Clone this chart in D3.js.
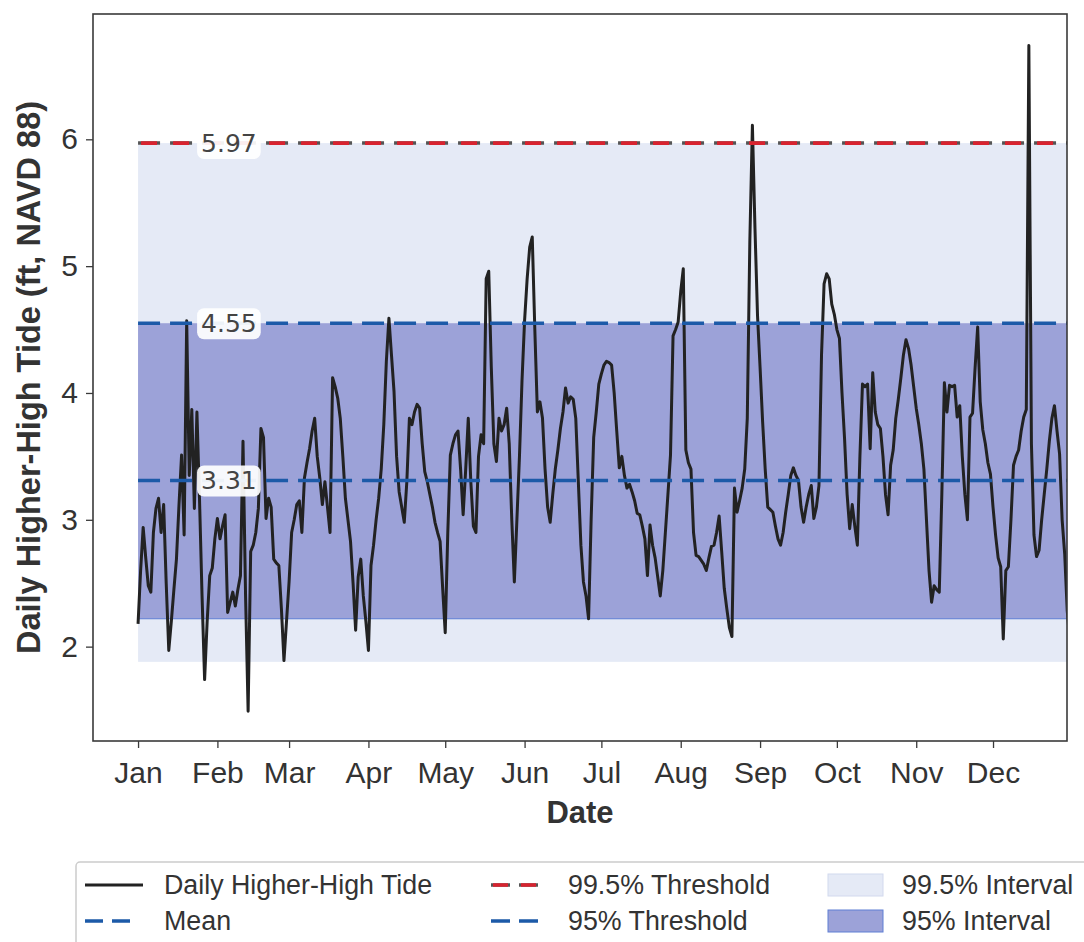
<!DOCTYPE html>
<html>
<head>
<meta charset="utf-8">
<script src="https://cdn.jsdelivr.net/npm/d3@7"></script>
<style>
  body { margin: 0; background: #fff; }
  svg text { font-family: "Liberation Sans", Arial, Helvetica, sans-serif; }
</style>
</head>
<body>
<svg id="chart" width="1084" height="942"></svg>
<script>
// Daily higher-high tide (ft, NAVD 88), one value per day starting Jan 1
const tideFt = [
  2.18, 2.60, 2.94, 2.70, 2.48, 2.43, 2.90, 3.09, 3.17, 2.90,
  3.12, 2.50, 1.97, 2.20, 2.45, 2.69, 3.12, 3.51, 2.88, 4.57,
  3.35, 3.87, 3.09, 3.85, 3.17, 2.40, 1.74, 2.20, 2.56, 2.62,
  2.85, 3.01, 2.85, 2.95, 3.04, 2.27, 2.35, 2.43, 2.32, 2.45,
  2.56, 3.62, 2.40, 1.49, 2.75, 2.80, 2.90, 3.09, 3.72, 3.65,
  3.01, 3.17, 3.10, 2.69, 2.66, 2.64, 2.30, 1.89, 2.20, 2.51,
  2.90, 3.00, 3.12, 3.15, 2.90, 3.33, 3.45, 3.56, 3.70, 3.80,
  3.50, 3.33, 3.12, 3.30, 3.10, 2.90, 4.12, 4.05, 3.96, 3.80,
  3.50, 3.17, 3.00, 2.83, 2.50, 2.13, 2.55, 2.69, 2.40, 2.20,
  1.97, 2.64, 2.80, 3.00, 3.17, 3.40, 3.75, 4.25, 4.59, 4.30,
  4.01, 3.50, 3.22, 3.10, 2.98, 3.30, 3.80, 3.75, 3.85, 3.91,
  3.88, 3.60, 3.38, 3.30, 3.20, 3.10, 2.98, 2.90, 2.83, 2.46,
  2.11, 2.90, 3.51, 3.60, 3.67, 3.70, 3.40, 3.04, 3.40, 3.80,
  3.30, 2.95, 2.90, 3.50, 3.67, 3.60, 4.90, 4.96, 4.20, 3.60,
  3.46, 3.80, 3.70, 3.75, 3.88, 3.60, 3.00, 2.51, 3.00, 3.50,
  4.10, 4.57, 4.90, 5.15, 5.23, 4.50, 3.85, 3.93, 3.80, 3.40,
  3.10, 2.98, 3.20, 3.40, 3.55, 3.72, 3.85, 4.04, 3.92, 3.97,
  3.95, 3.80, 3.30, 2.80, 2.51, 2.40, 2.22, 3.00, 3.65, 3.85,
  4.07, 4.15, 4.22, 4.25, 4.24, 4.22, 4.00, 3.70, 3.41, 3.50,
  3.35, 3.25, 3.28, 3.22, 3.15, 3.05, 3.04, 2.95, 2.85, 2.56,
  2.96, 2.80, 2.70, 2.55, 2.40, 2.60, 2.90, 3.20, 3.51, 4.45,
  4.50, 4.56, 4.80, 4.98, 3.55, 3.45, 3.40, 2.90, 2.72, 2.71,
  2.68, 2.65, 2.60, 2.70, 2.79, 2.80, 2.90, 3.03, 2.75, 2.46,
  2.30, 2.15, 2.08, 3.25, 3.06, 3.15, 3.25, 3.40, 3.80, 5.20,
  6.11, 5.30, 4.61, 4.20, 3.77, 3.40, 3.10, 3.08, 3.06, 2.95,
  2.85, 2.80, 2.90, 3.06, 3.20, 3.35, 3.41, 3.35, 3.31, 3.10,
  2.98, 3.10, 3.20, 3.27, 3.01, 3.10, 3.27, 4.30, 4.86, 4.94,
  4.90, 4.70, 4.62, 4.50, 4.43, 4.00, 3.64, 3.20, 2.93, 3.12,
  2.95, 2.80, 3.50, 4.07, 4.05, 4.07, 3.56, 4.16, 3.85, 3.75,
  3.72, 3.50, 3.20, 3.04, 3.43, 3.55, 3.80, 3.95, 4.12, 4.30,
  4.42, 4.35, 4.22, 4.05, 3.88, 3.75, 3.60, 3.40, 3.00, 2.60,
  2.35, 2.48, 2.45, 2.43, 3.20, 4.08, 3.85, 4.06, 4.05, 4.06,
  3.81, 3.90, 3.50, 3.20, 3.00, 3.81, 3.84, 4.20, 4.52, 3.93,
  3.71, 3.60, 3.45, 3.36, 3.10, 2.88, 2.70, 2.63, 2.06, 2.60,
  2.63, 3.00, 3.43, 3.50, 3.55, 3.70, 3.81, 3.87, 6.74, 3.60,
  2.88, 2.71, 2.76, 3.00, 3.20, 3.40, 3.62, 3.80, 3.90, 3.70,
  3.52, 3.00, 2.73, 2.28, 2.05
];

// Summary statistics
const meanFt = 3.31;
const threshold95 = 4.55;
const threshold995 = 5.97;
const interval95 = [2.22, 4.55];
const interval995 = [1.88, 5.97];

// Axis ticks
const yTickValues = [2, 3, 4, 5, 6];
const monthFormat = "%b";

// Legend entries
const legendLabels = [
  "Daily Higher-High Tide", "Mean",
  "99.5% Threshold", "95% Threshold",
  "99.5% Interval", "95% Interval"
];

const W = 1084, H = 942;
const margin = { top: 14, right: 17, bottom: 201, left: 93 };
const svg = d3.select("#chart");

const DAY = 864e5;
const start = new Date(Date.UTC(2023, 0, 1));
const dates = tideFt.map((_, i) => d3.utcDay.offset(start, i));
const last = dates[dates.length - 1];

const x = d3.scaleUtc()
  .domain([new Date(start.getTime() - 17.6 * DAY), new Date(start.getTime() + 362.9 * DAY)])
  .range([margin.left, W - margin.right]);
const y = d3.scaleLinear()
  .domain([1.256, 6.988])
  .range([H - margin.bottom, margin.top]);

const COL = {
  text: "#333333",
  frame: "#3a3a3a",
  tide: "#222222",
  blue: "#1c5aa8",
  red: "#d8232f",
  redEdge: "#555555",
  band995: "#e5eaf6",
  band95: "#9ca2d8",
  band95Edge: "#5f7fd4"
};

svg.append("rect").attr("width", W).attr("height", H).attr("fill", "#fff");

svg.append("clipPath").attr("id", "plotClip")
  .append("rect")
  .attr("x", margin.left).attr("y", margin.top)
  .attr("width", W - margin.left - margin.right)
  .attr("height", H - margin.top - margin.bottom);

const plot = svg.append("g").attr("clip-path", "url(#plotClip)");

// Interval bands
plot.append("rect")
  .attr("x", x(start)).attr("width", x(last) - x(start))
  .attr("y", y(interval995[1])).attr("height", y(interval995[0]) - y(interval995[1]))
  .attr("fill", COL.band995);
plot.append("rect")
  .attr("x", x(start)).attr("width", x(last) - x(start))
  .attr("y", y(interval95[1])).attr("height", y(interval95[0]) - y(interval95[1]))
  .attr("fill", COL.band95);
plot.append("line")
  .attr("x1", x(start)).attr("x2", x(last))
  .attr("y1", y(interval95[0])).attr("y2", y(interval95[0]))
  .attr("stroke", COL.band95Edge).attr("stroke-width", 1.2);

// Tide series
const line = d3.line()
  .x((d, i) => x(dates[i]))
  .y(d => y(d));
plot.append("path")
  .datum(tideFt)
  .attr("d", line)
  .attr("fill", "none")
  .attr("stroke", COL.tide)
  .attr("stroke-width", 3)
  .attr("stroke-linejoin", "round");

// Threshold and mean lines
function hline(g, v, color, width, dash, offset) {
  g.append("line")
    .attr("x1", x(start)).attr("x2", x(last))
    .attr("y1", y(v)).attr("y2", y(v))
    .attr("stroke", color).attr("stroke-width", width)
    .attr("stroke-dasharray", dash)
    .attr("stroke-dashoffset", offset || 0);
}
hline(plot, threshold995, COL.redEdge, 3.5, "22,10");
hline(plot, threshold995, COL.red, 3.6, "16,16", -3);
hline(plot, threshold95, COL.blue, 3.5, "22,10");
hline(plot, meanFt, COL.blue, 3.5, "22,10");

// Value labels on the lines
const labelDate = new Date(start.getTime() + 35.5 * DAY);
[threshold995, threshold95, meanFt].forEach(v => {
  const g = svg.append("g").attr("transform", `translate(${x(labelDate)},${y(v)})`);
  const t = g.append("text")
    .attr("text-anchor", "middle")
    .attr("dy", "0.36em")
    .style("font-family", "'DejaVu Sans', sans-serif")
    .attr("font-size", 25)
    .attr("fill", "#444")
    .text(v.toFixed(2));
  const bb = t.node().getBBox();
  g.insert("rect", "text")
    .attr("x", bb.x - 4).attr("y", bb.y - 1)
    .attr("width", bb.width + 8).attr("height", bb.height + 2)
    .attr("rx", 7)
    .attr("fill", "#fff").attr("fill-opacity", 0.92);
});

// Axes
const xAxis = d3.axisBottom(x)
  .tickValues(d3.utcMonth.range(start, d3.utcYear.offset(start, 1)))
  .tickFormat(d3.utcFormat(monthFormat))
  .tickSize(7).tickPadding(14);
const gx = svg.append("g")
  .attr("transform", `translate(0,${H - margin.bottom})`)
  .call(xAxis);
gx.select(".domain").remove();
gx.selectAll(".tick line").attr("stroke", COL.frame).attr("stroke-width", 1.3);
gx.selectAll(".tick text")
  .attr("fill", COL.text)
  .style("font-family", "'Liberation Sans', Arial, sans-serif")
  .attr("font-size", 30);

const yAxis = d3.axisLeft(y).tickValues(yTickValues).tickFormat(d3.format("d"))
  .tickSize(7).tickPadding(8);
const gy = svg.append("g")
  .attr("transform", `translate(${margin.left},0)`)
  .call(yAxis);
gy.select(".domain").remove();
gy.selectAll(".tick line").attr("stroke", COL.frame).attr("stroke-width", 1.3);
gy.selectAll(".tick text")
  .attr("fill", COL.text)
  .style("font-family", "'Liberation Sans', Arial, sans-serif")
  .attr("font-size", 30);

// Frame
svg.append("rect")
  .attr("x", margin.left).attr("y", margin.top)
  .attr("width", W - margin.left - margin.right)
  .attr("height", H - margin.top - margin.bottom)
  .attr("fill", "none").attr("stroke", COL.frame).attr("stroke-width", 1.6);

// Axis titles
svg.append("text")
  .attr("x", (margin.left + W - margin.right) / 2)
  .attr("y", 823)
  .attr("text-anchor", "middle")
  .attr("font-weight", "bold")
  .attr("font-size", 31)
  .attr("fill", COL.text)
  .text("Date");
svg.append("text")
  .attr("transform", `translate(29,${(margin.top + H - margin.bottom) / 2}) rotate(-90)`)
  .attr("text-anchor", "middle")
  .attr("dy", "0.35em")
  .attr("font-weight", "bold")
  .attr("font-size", 32.5)
  .attr("fill", COL.text)
  .text("Daily Higher-High Tide (ft, NAVD 88)");

// Legend
const lg = svg.append("g");
lg.append("rect")
  .attr("x", 76).attr("y", 862).attr("width", 1040).attr("height", 110)
  .attr("rx", 4)
  .attr("fill", "#fff").attr("stroke", "#cccccc").attr("stroke-width", 1.5);

const rows = [885, 921];
const cols = [
  { sx: 85, tx: 164 },
  { sx: 491, tx: 568 },
  { sx: 828, tx: 902 }
];
function legendText(c, r, label) {
  lg.append("text")
    .attr("x", cols[c].tx).attr("y", rows[r])
    .attr("dy", "0.35em")
    .attr("font-size", 26.8)
    .attr("fill", COL.text)
    .text(label);
}
// column 1
lg.append("line").attr("x1", cols[0].sx).attr("x2", cols[0].sx + 58)
  .attr("y1", rows[0]).attr("y2", rows[0])
  .attr("stroke", COL.tide).attr("stroke-width", 3);
legendText(0, 0, legendLabels[0]);
lg.append("line").attr("x1", cols[0].sx).attr("x2", cols[0].sx + 50)
  .attr("y1", rows[1]).attr("y2", rows[1])
  .attr("stroke", COL.blue).attr("stroke-width", 3.5).attr("stroke-dasharray", "18,9");
legendText(0, 1, legendLabels[1]);
// column 2
lg.append("line").attr("x1", cols[1].sx).attr("x2", cols[1].sx + 47)
  .attr("y1", rows[0]).attr("y2", rows[0])
  .attr("stroke", COL.redEdge).attr("stroke-width", 3.5).attr("stroke-dasharray", "19,9");
lg.append("line").attr("x1", cols[1].sx).attr("x2", cols[1].sx + 47)
  .attr("y1", rows[0]).attr("y2", rows[0])
  .attr("stroke", COL.red).attr("stroke-width", 3.6).attr("stroke-dasharray", "15,13")
  .attr("stroke-dashoffset", -2);
legendText(1, 0, legendLabels[2]);
lg.append("line").attr("x1", cols[1].sx).attr("x2", cols[1].sx + 47)
  .attr("y1", rows[1]).attr("y2", rows[1])
  .attr("stroke", COL.blue).attr("stroke-width", 3.5).attr("stroke-dasharray", "19,9");
legendText(1, 1, legendLabels[3]);
// column 3
lg.append("rect").attr("x", cols[2].sx).attr("y", rows[0] - 11)
  .attr("width", 55).attr("height", 22)
  .attr("fill", COL.band995).attr("stroke", "#d2d9ee").attr("stroke-width", 1);
legendText(2, 0, legendLabels[4]);
lg.append("rect").attr("x", cols[2].sx).attr("y", rows[1] - 11)
  .attr("width", 55).attr("height", 22)
  .attr("fill", COL.band95).attr("stroke", COL.band95Edge).attr("stroke-width", 1);
legendText(2, 1, legendLabels[5]);
</script>
</body>
</html>
